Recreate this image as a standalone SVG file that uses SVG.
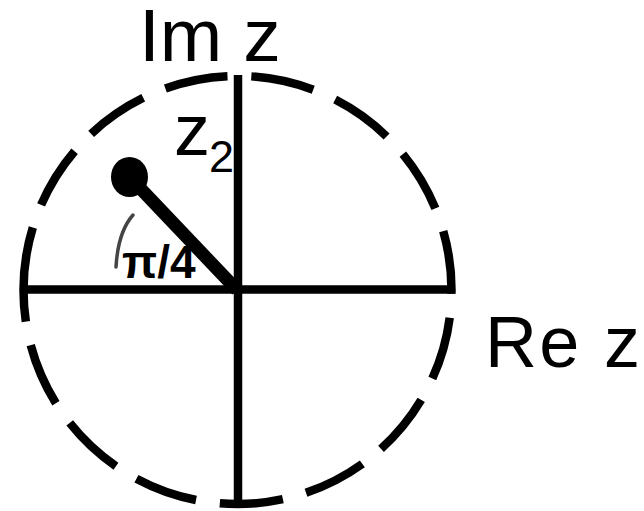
<svg xmlns="http://www.w3.org/2000/svg" width="644" height="511" viewBox="0 0 644 511">
<style>
.lbl{font-family:"Liberation Sans",Arial,sans-serif;fill:#000}
.ax{stroke:#000;stroke-width:8.5;fill:none}
</style>
<rect width="644" height="511" fill="#fff"/>
<g id="circle">
<path d="M 23.5 290 A 214 214 0 1 1 451.5 290 A 214 214 0 1 1 23.5 290" fill="none" stroke="#000" stroke-width="8.5" stroke-dasharray="63.5 24"/>
</g>
<g id="connectors">
<line class="ax" x1="26" y1="289.5" x2="455" y2="289.5"/>
<line class="ax" x1="238" y1="75" x2="238" y2="502"/>
<line x1="129.5" y1="177" x2="237" y2="290" stroke="#000" stroke-width="13"/>
<path d="M133 215 Q118 232 116 267" fill="none" stroke="#444" stroke-width="3.5" stroke-linecap="round"/>
</g>
<g id="z2">
<ellipse cx="129.5" cy="177" rx="18.5" ry="20" fill="#000"/>
<text class="lbl" x="174" y="155" font-size="72">z</text>
<text class="lbl" x="209" y="172" font-size="45">2</text>
</g>
<g id="im-label"><text class="lbl" x="139" y="61" font-size="75">Im z</text></g>
<g id="re-label"><text class="lbl" x="485" y="367" font-size="72" textLength="155" lengthAdjust="spacing">Re z</text></g>
<g id="angle-label"><text class="lbl" x="122" y="278" font-size="46" font-weight="bold">π/4</text></g>
</svg>
